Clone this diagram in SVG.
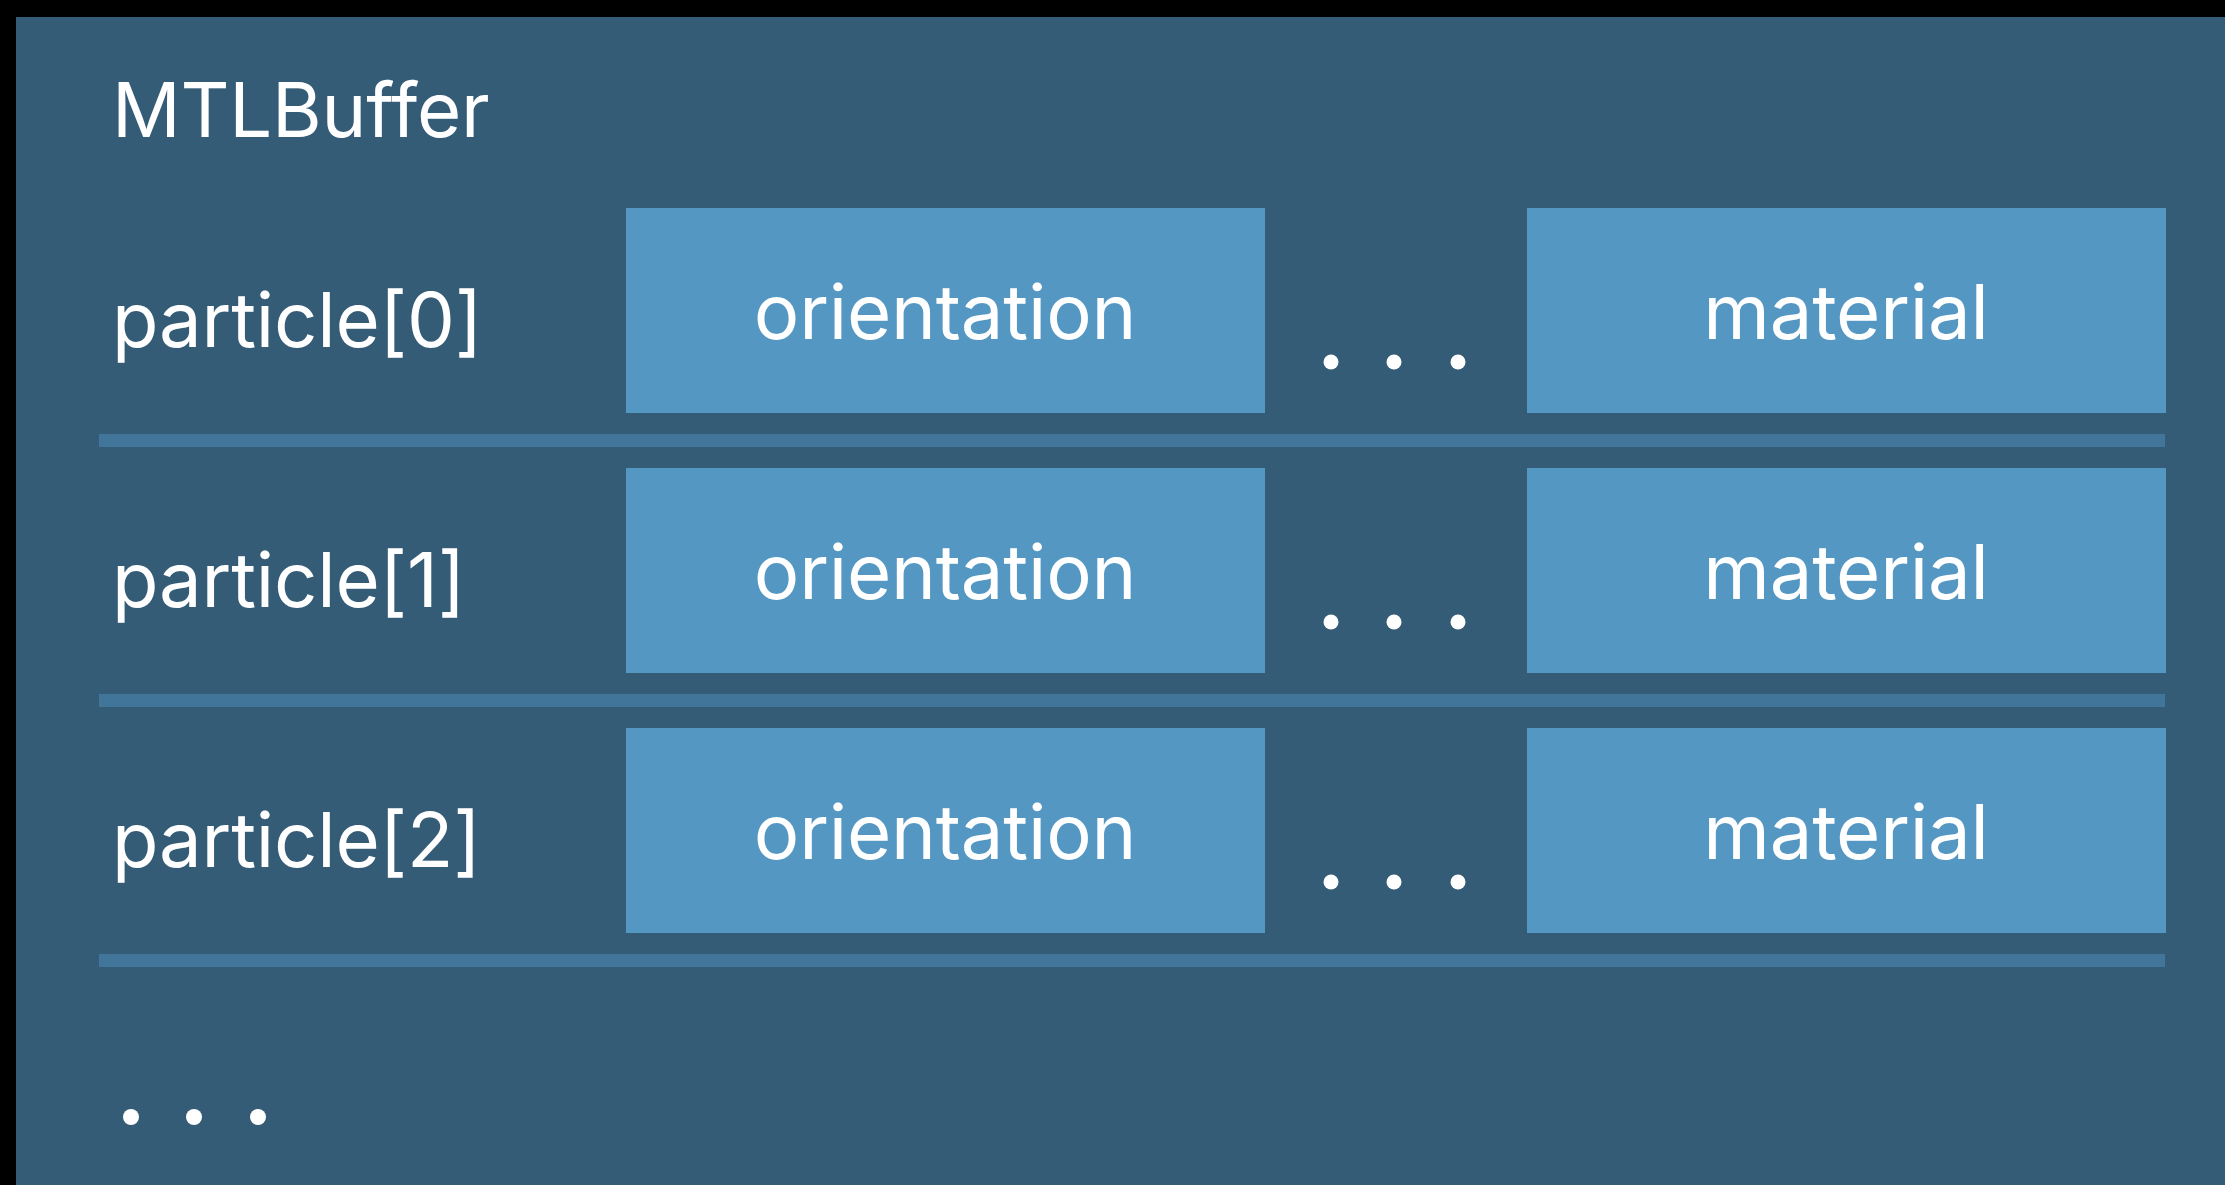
<svg xmlns="http://www.w3.org/2000/svg" width="2225" height="1185" viewBox="0 0 2225 1185">
<style>
.lbl{font-family:Inter,"Open Sans","Liberation Sans",sans-serif;font-size:76px;letter-spacing:-0.2px;fill:#ffffff}
.box{fill:#5497c2}
.sep{fill:#41769a}
.dot{fill:#ffffff}
</style>
<rect x="0" y="0" width="2225" height="1185" fill="#000000"/>
<rect x="16" y="17" width="2209" height="1168" fill="#345c76"/>
<text class="lbl" x="112" y="137">MTLBuffer</text>
<g id="row0">
<text class="lbl" x="112" y="347">particle[0]</text>
<g id="orientation0"><rect class="box" x="626" y="208" width="639" height="205"/><text class="lbl" x="945" y="339" text-anchor="middle">orientation</text></g>
<g id="dots0"><circle class="dot" cx="1331" cy="362" r="7.5"/><circle class="dot" cx="1394" cy="362" r="7.5"/><circle class="dot" cx="1458" cy="362" r="7.5"/></g>
<g id="material0"><rect class="box" x="1527" y="208" width="639" height="205"/><text class="lbl" x="1846" y="339" text-anchor="middle">material</text></g>
</g>
<g id="row1">
<text class="lbl" x="112" y="607">particle[1]</text>
<g id="orientation1"><rect class="box" x="626" y="468" width="639" height="205"/><text class="lbl" x="945" y="599" text-anchor="middle">orientation</text></g>
<g id="dots1"><circle class="dot" cx="1331" cy="622" r="7.5"/><circle class="dot" cx="1394" cy="622" r="7.5"/><circle class="dot" cx="1458" cy="622" r="7.5"/></g>
<g id="material1"><rect class="box" x="1527" y="468" width="639" height="205"/><text class="lbl" x="1846" y="599" text-anchor="middle">material</text></g>
</g>
<g id="row2">
<text class="lbl" x="112" y="867">particle[2]</text>
<g id="orientation2"><rect class="box" x="626" y="728" width="639" height="205"/><text class="lbl" x="945" y="859" text-anchor="middle">orientation</text></g>
<g id="dots2"><circle class="dot" cx="1331" cy="882" r="7.5"/><circle class="dot" cx="1394" cy="882" r="7.5"/><circle class="dot" cx="1458" cy="882" r="7.5"/></g>
<g id="material2"><rect class="box" x="1527" y="728" width="639" height="205"/><text class="lbl" x="1846" y="859" text-anchor="middle">material</text></g>
</g>
<g id="separators">
<rect class="sep" x="99" y="434" width="2066" height="13"/>
<rect class="sep" x="99" y="694" width="2066" height="13"/>
<rect class="sep" x="99" y="954" width="2066" height="13"/>
</g>
<g id="more"><circle class="dot" cx="131" cy="1117" r="8"/><circle class="dot" cx="194" cy="1117" r="8"/><circle class="dot" cx="258" cy="1117" r="8"/></g>
</svg>
